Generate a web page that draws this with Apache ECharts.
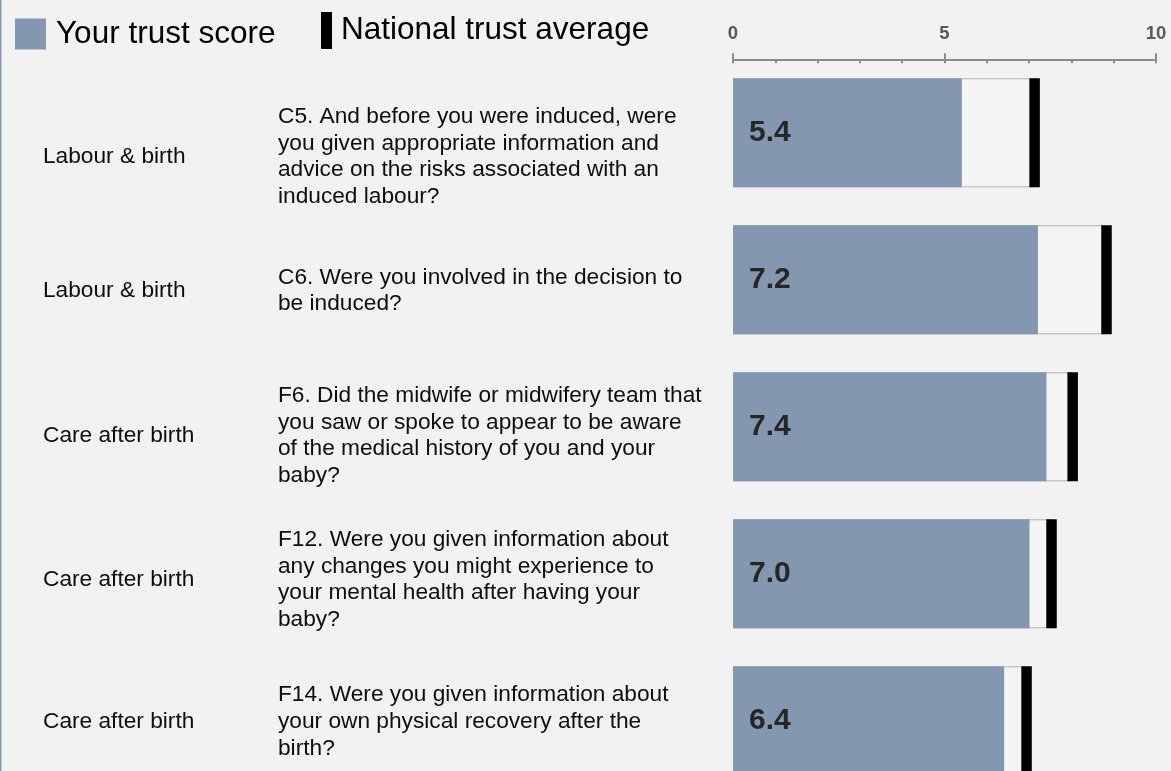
<!DOCTYPE html>
<html>
<head>
<meta charset="utf-8">
<script src="https://cdn.jsdelivr.net/npm/echarts@6/dist/echarts.min.js"></script>
<style>
html,body{margin:0;padding:0;background:#f2f2f2;}
#c{width:1171px;height:771px;}
</style>
</head>
<body>
<div id="c"></div>
<script>
// ---- data ----
const areas = ['Labour & birth', 'Labour & birth', 'Care after birth', 'Care after birth', 'Care after birth'];
const questions = [
  'C5. And before you were induced, were\nyou given appropriate information and\nadvice on the risks associated with an\ninduced labour?',
  'C6. Were you involved in the decision to\nbe induced?',
  'F6. Did the midwife or midwifery team that\nyou saw or spoke to appear to be aware\nof the medical history of you and your\nbaby?',
  'F12. Were you given information about\nany changes you might experience to\nyour mental health after having your\nbaby?',
  'F14. Were you given information about\nyour own physical recovery after the\nbirth?'
];
const trustScore = [5.41, 7.21, 7.41, 7.01, 6.41];
const nationalAverage = [7.13, 8.83, 8.03, 7.53, 6.94];
const tickValues = [0, 5, 10];

// ---- layout (text column positions and per-row vertical nudges, px) ----
const areaX = 43;
const questionX = 278;
const rowNudge = [24, 11, 9, 6, 1];

const FONT = "'Liberation Sans', Arial, sans-serif";
const BLUE = '#8497b0';
const AXIS_GREY = '#8c8c8c';

const chart = echarts.init(document.getElementById('c'), null, {renderer: 'canvas'});

const option = {
  backgroundColor: '#f2f2f2',
  animation: false,
  textStyle: {fontFamily: FONT},
  legend: [
    {
      data: [{name: 'Your trust score', icon: 'rect', itemStyle: {color: BLUE, borderWidth: 0}}],
      left: 15, top: 18, padding: 0,
      itemWidth: 31, itemHeight: 31,
      selectedMode: false,
      textStyle: {fontSize: 31.5, color: '#000', fontFamily: FONT, padding: [3, 0, 0, 5]}
    },
    {
      data: [{name: 'National trust average', icon: 'rect', itemStyle: {color: '#000', borderWidth: 0}}],
      left: 321, top: 12, padding: 0,
      itemWidth: 11, itemHeight: 37,
      selectedMode: false,
      textStyle: {fontSize: 31.5, color: '#000', fontFamily: FONT, padding: [3, 0, 0, 4]}
    }
  ],
  grid: {left: 733, right: 15, top: 59.3, height: 735, containLabel: false, outerBoundsMode: 'none'},
  xAxis: [
    {
      type: 'value', position: 'top', min: 0, max: 10, interval: 5,
      axisLine: {show: true, lineStyle: {color: AXIS_GREY, width: 2}},
      axisTick: {show: true, inside: true, length: 4, lineStyle: {color: AXIS_GREY, width: 2}},
      minorTick: {show: true, splitNumber: 5, length: 4, lineStyle: {color: AXIS_GREY, width: 2}},
      splitLine: {show: false},
      axisLabel: {
        show: true, margin: 16, fontSize: 18.5, fontWeight: 700, color: '#595959', fontFamily: FONT,
        formatter: v => tickValues.indexOf(v) >= 0 ? String(v) : ''
      }
    },
    {
      type: 'value', position: 'top', min: 0, max: 10, interval: 5,
      axisLine: {show: false},
      axisTick: {show: true, inside: false, length: 6, lineStyle: {color: AXIS_GREY, width: 2}},
      axisLabel: {show: false},
      splitLine: {show: false}
    }
  ],
  yAxis: [
    {
      type: 'category', inverse: true, data: questions,
      axisLine: {show: false}, axisTick: {show: false}, splitLine: {show: false},
      axisLabel: {show: false}
    }
  ],
  series: [
    {
      name: 'National background',
      type: 'bar', xAxisIndex: 0, yAxisIndex: 0,
      data: nationalAverage,
      barWidth: 109,
      itemStyle: {color: '#f4f4f4', borderColor: '#b3b3b3', borderWidth: 1},
      silent: true, z: 1
    },
    {
      name: 'Your trust score',
      type: 'bar', xAxisIndex: 0, yAxisIndex: 0,
      data: trustScore,
      barWidth: 109, barGap: '-100%',
      itemStyle: {color: BLUE},
      label: {
        show: true, position: 'insideLeft', distance: 16,
        fontSize: 30, fontWeight: 'bold', color: '#262626', fontFamily: FONT,
        formatter: p => p.value.toFixed(1)
      },
      z: 2
    },
    {
      name: 'National trust average',
      type: 'scatter', xAxisIndex: 0, yAxisIndex: 0,
      data: nationalAverage.map((v, i) => [v, i]),
      symbol: 'rect', symbolSize: [10.5, 109],
      itemStyle: {color: '#000', opacity: 1},
      z: 3
    },
    {
      name: 'Row text',
      type: 'custom', xAxisIndex: 0, yAxisIndex: 0,
      clip: false, silent: true, z: 4,
      data: questions.map((q, i) => [0, i]),
      renderItem: (params, api) => {
        const i = params.dataIndex;
        const y = api.coord([0, i])[1] + rowNudge[i];
        const base = {fill: '#0d0d0d', fontSize: 22.7, fontFamily: FONT, lineHeight: 26.6, verticalAlign: 'middle', align: 'left'};
        return {
          type: 'group',
          children: [
            {type: 'text', x: areaX, y: y, style: Object.assign({text: areas[i]}, base)},
            {type: 'text', x: questionX, y: y, style: Object.assign({text: questions[i]}, base)}
          ]
        };
      }
    }
  ],
  graphic: [
    {type: 'rect', left: 0, top: 0, shape: {x: 0, y: 0, width: 1.5, height: 771}, style: {fill: BLUE}, silent: true}
  ]
};

chart.setOption(option);
</script>
</body>
</html>
